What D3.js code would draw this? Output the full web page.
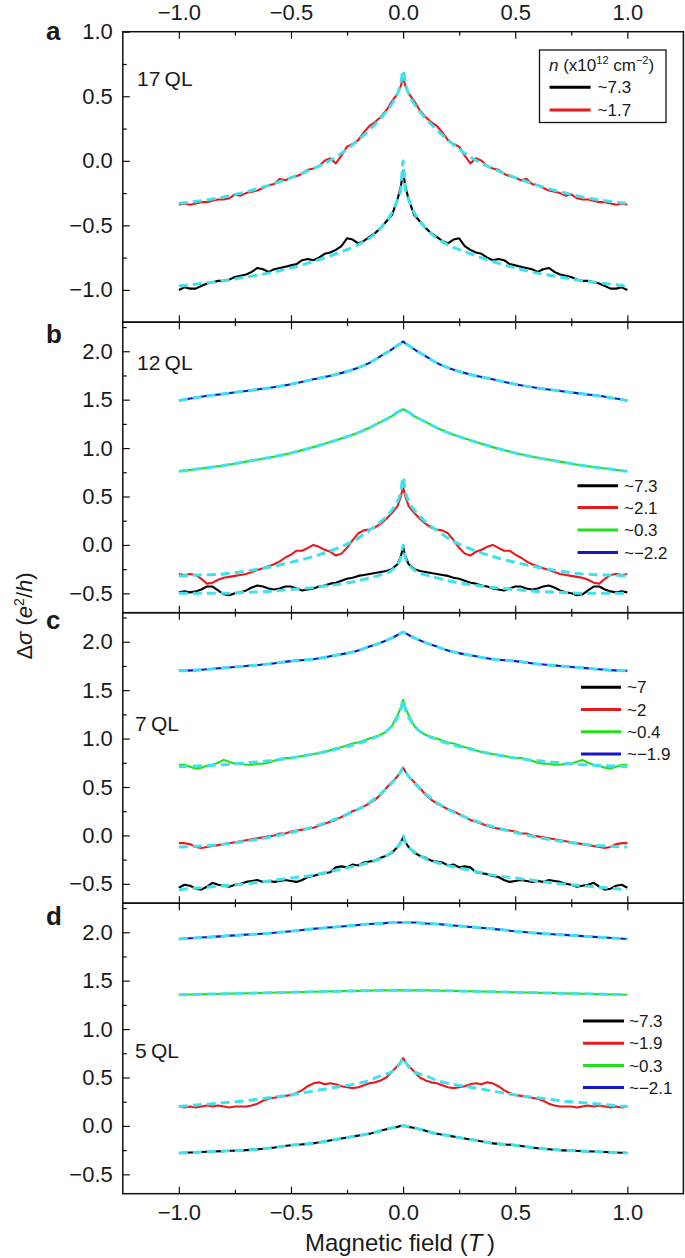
<!DOCTYPE html>
<html><head><meta charset="utf-8">
<script src="https://cdn.jsdelivr.net/npm/d3@7"></script>
<style>
body{margin:0;background:#fff}
svg{display:block}
text{font-family:"Liberation Sans",Arial,Helvetica,sans-serif;fill:#1a1a1a}
</style>
</head><body>
<svg id="chart" width="685" height="1258"></svg>
<script>
// ---------- data (magnetic field B >= 0; measured curves are symmetrized in B) ----------
const FINE_X = [0,0.01,0.025,0.05,0.075,0.1,0.125,0.15,0.175,0.2,0.225,0.25,0.275,0.3,0.325,0.35,0.375,0.4,0.425,0.45,0.475,0.5,0.525,0.55,0.575,0.6,0.625,0.65,0.675,0.7,0.725,0.75,0.775,0.8,0.825,0.85,0.875,0.9,0.925,0.95,0.975,1.0];
const COARSE_X = [0,0.01,0.025,0.05,0.1,0.15,0.2,0.3,0.4,0.5,0.6,0.7,0.8,0.9,1.0];

// panel a: 17 QL
const A_BLACK = [-0.08,-0.2,-0.3,-0.42,-0.47,-0.52,-0.56,-0.59,-0.62,-0.64,-0.61,-0.6,-0.66,-0.69,-0.71,-0.72,-0.75,-0.77,-0.76,-0.77,-0.8,-0.81,-0.82,-0.83,-0.84,-0.86,-0.84,-0.83,-0.86,-0.88,-0.89,-0.9,-0.92,-0.93,-0.93,-0.94,-0.95,-0.97,-0.99,-0.99,-0.98,-1.0];
const A_RED = [0.65,0.58,0.52,0.46,0.39,0.34,0.3,0.27,0.22,0.16,0.13,0.11,0.04,-0.02,0.02,0.0,-0.04,-0.06,-0.07,-0.1,-0.12,-0.13,-0.15,-0.14,-0.18,-0.19,-0.21,-0.23,-0.24,-0.25,-0.27,-0.26,-0.29,-0.3,-0.3,-0.31,-0.32,-0.32,-0.33,-0.34,-0.33,-0.34];
const A_BLACK_FIT = [0.0,-0.22,-0.3,-0.4,-0.52,-0.6,-0.65,-0.72,-0.78,-0.83,-0.87,-0.9,-0.93,-0.95,-0.97];
const A_RED_FIT = [0.70,0.6,0.52,0.44,0.33,0.24,0.16,0.03,-0.06,-0.13,-0.19,-0.24,-0.28,-0.31,-0.33];

// panel b: 12 QL
const B_BLACK = [-0.02,-0.12,-0.2,-0.25,-0.27,-0.28,-0.29,-0.3,-0.31,-0.32,-0.34,-0.35,-0.37,-0.39,-0.4,-0.42,-0.43,-0.45,-0.46,-0.47,-0.45,-0.43,-0.43,-0.45,-0.46,-0.45,-0.43,-0.42,-0.44,-0.47,-0.49,-0.5,-0.52,-0.51,-0.47,-0.43,-0.43,-0.46,-0.48,-0.49,-0.48,-0.49];
const B_RED = [0.6,0.5,0.4,0.33,0.27,0.22,0.18,0.16,0.15,0.12,0.05,-0.03,-0.09,-0.11,-0.07,-0.05,-0.02,0.0,-0.03,-0.06,-0.06,-0.1,-0.13,-0.17,-0.2,-0.22,-0.24,-0.26,-0.28,-0.3,-0.31,-0.32,-0.33,-0.34,-0.36,-0.39,-0.4,-0.35,-0.31,-0.3,-0.31,-0.3];
const B_GREEN = [1.4,1.39,1.37,1.33,1.27,1.21,1.16,1.08,1.01,0.95,0.9,0.86,0.82,0.79,0.76];
const B_BLUE = [2.1,2.08,2.06,2.02,1.95,1.88,1.83,1.76,1.71,1.66,1.62,1.59,1.56,1.53,1.49];
const B_BLACK_FIT = [0.0,-0.13,-0.2,-0.26,-0.31,-0.34,-0.37,-0.41,-0.44,-0.46,-0.48,-0.49,-0.5,-0.5,-0.5];
const B_RED_FIT = [0.7,0.55,0.45,0.36,0.24,0.15,0.07,-0.04,-0.12,-0.18,-0.23,-0.27,-0.3,-0.31,-0.32];

// panel c: 7 QL
const C_BLACK = [-0.02,-0.07,-0.12,-0.18,-0.21,-0.23,-0.26,-0.27,-0.28,-0.31,-0.3,-0.33,-0.32,-0.33,-0.38,-0.39,-0.4,-0.42,-0.43,-0.46,-0.48,-0.47,-0.46,-0.47,-0.48,-0.47,-0.48,-0.46,-0.47,-0.48,-0.5,-0.51,-0.53,-0.52,-0.51,-0.49,-0.53,-0.56,-0.55,-0.52,-0.51,-0.54];
const C_RED = [0.7,0.66,0.61,0.55,0.49,0.42,0.37,0.33,0.3,0.27,0.25,0.22,0.19,0.16,0.14,0.12,0.1,0.08,0.07,0.06,0.05,0.04,0.02,0.02,0.0,-0.01,-0.02,-0.03,-0.04,-0.05,-0.06,-0.07,-0.08,-0.09,-0.1,-0.11,-0.12,-0.13,-0.12,-0.09,-0.08,-0.08];
const C_GREEN = [1.4,1.32,1.24,1.13,1.07,1.04,1.02,1.0,0.98,0.96,0.95,0.93,0.91,0.9,0.88,0.86,0.85,0.84,0.83,0.82,0.81,0.8,0.8,0.79,0.77,0.75,0.74,0.74,0.73,0.73,0.74,0.74,0.76,0.78,0.75,0.73,0.72,0.7,0.69,0.71,0.73,0.73];
const C_BLUE = [2.1,2.09,2.07,2.04,1.99,1.95,1.91,1.86,1.82,1.8,1.77,1.75,1.73,1.71,1.7];
const C_BLACK_FIT = [0.0,-0.07,-0.12,-0.17,-0.24,-0.28,-0.31,-0.36,-0.41,-0.44,-0.47,-0.5,-0.52,-0.54,-0.56];
const C_RED_FIT = [0.7,0.66,0.61,0.54,0.43,0.34,0.27,0.17,0.09,0.03,-0.02,-0.06,-0.09,-0.11,-0.12];
const C_GREEN_FIT = [1.4,1.3,1.22,1.13,1.04,0.99,0.95,0.89,0.84,0.8,0.77,0.75,0.73,0.72,0.71];

// panel d: 5 QL
const D_RED = [0.7,0.66,0.62,0.56,0.5,0.47,0.45,0.44,0.42,0.4,0.39,0.4,0.41,0.43,0.44,0.43,0.45,0.44,0.41,0.37,0.34,0.32,0.31,0.3,0.29,0.28,0.26,0.23,0.21,0.2,0.2,0.2,0.19,0.2,0.21,0.2,0.21,0.2,0.19,0.2,0.19,0.2];
const D_BLACK = [0.0,0.0,-0.01,-0.02,-0.05,-0.08,-0.1,-0.14,-0.18,-0.2,-0.23,-0.25,-0.26,-0.27,-0.28];
const D_GREEN = [1.4,1.4,1.4,1.4,1.4,1.397,1.395,1.39,1.385,1.38,1.375,1.37,1.365,1.36,1.355];
const D_BLUE = [2.1,2.1,2.1,2.1,2.09,2.085,2.075,2.055,2.035,2.01,1.99,1.975,1.96,1.945,1.93];
const D_RED_FIT = [0.7,0.66,0.61,0.56,0.52,0.47,0.44,0.4,0.36,0.32,0.29,0.26,0.24,0.22,0.2];

// ticks and labels
const X_DOMAIN = [-1.25, 1.25];
const X_MAJOR = [-1.0,-0.5,0.0,0.5,1.0];
const X_MINOR = [-0.75,-0.25,0.25,0.75];
const Y_DOMAINS = [[-1.25,1.0],[-0.7,2.3],[-0.7,2.3],[-0.7,2.3]];
const Y_MAJOR = [[-1.0,-0.5,0.0,0.5,1.0],[-0.5,0.0,0.5,1.0,1.5,2.0],[-0.5,0.0,0.5,1.0,1.5,2.0],[-0.5,0.0,0.5,1.0,1.5,2.0]];
const Y_MINOR = [[-0.75,-0.25,0.25,0.75],[-0.25,0.25,0.75,1.25,1.75,2.25],[-0.25,0.25,0.75,1.25,1.75,2.25],[-0.25,0.25,0.75,1.25,1.75,2.25]];
const PANEL_LETTERS = ['a','b','c','d'];
const THICKNESS = ['17\u2009QL','12\u2009QL','7\u2009QL','5\u2009QL'];
const LEGEND_LABELS = [['~7.3','~1.7'],['~7.3','~2.1','~0.3','~\u22122.2'],['~7','~2','~0.4','~\u22121.9'],['~7.3','~1.9','~0.3','~\u22122.1']];
const SERIES_COLORS = ['#000000','#e8191c','#22e01c','#1414c8'];
const FIT_COLOR = '#3fe2ec';

const PANEL_DATA = [
  {curves:[{x:FINE_X,y:A_BLACK},{x:FINE_X,y:A_RED}], fits:[{x:COARSE_X,y:A_BLACK_FIT},{x:COARSE_X,y:A_RED_FIT}]},
  {curves:[{x:FINE_X,y:B_BLACK},{x:FINE_X,y:B_RED},{x:COARSE_X,y:B_GREEN},{x:COARSE_X,y:B_BLUE}],
   fits:[{x:COARSE_X,y:B_BLACK_FIT},{x:COARSE_X,y:B_RED_FIT},{x:COARSE_X,y:B_GREEN},{x:COARSE_X,y:B_BLUE}]},
  {curves:[{x:FINE_X,y:C_BLACK},{x:FINE_X,y:C_RED},{x:FINE_X,y:C_GREEN},{x:COARSE_X,y:C_BLUE}],
   fits:[{x:COARSE_X,y:C_BLACK_FIT},{x:COARSE_X,y:C_RED_FIT},{x:COARSE_X,y:C_GREEN_FIT},{x:COARSE_X,y:C_BLUE}]},
  {curves:[{x:COARSE_X,y:D_BLACK},{x:FINE_X,y:D_RED},{x:COARSE_X,y:D_GREEN},{x:COARSE_X,y:D_BLUE}],
   fits:[{x:COARSE_X,y:D_BLACK},{x:COARSE_X,y:D_RED_FIT},{x:COARSE_X,y:D_GREEN},{x:COARSE_X,y:D_BLUE}]}
];

// ---------- layout ----------
const X0 = 122.8, X1 = 683.4, TOP = 31.7, PH = 290.5;
const TICK_FS = 22, MAJ = 7, MIN = 4;
const LETTER_BASE = [40, 343, 629, 925];
const QL_POS = [[137,86],[137,370],[135,731],[135,1058]];
const LEG = [
  {x1:549.6,x2:590.6,tx:597.6,ys:[87.3,110]},
  {x1:577.5,x2:618,tx:624,ys:[485.7,507.5,530,552.5]},
  {x1:581,x2:621,tx:627,ys:[687.3,709.5,731.7,754]},
  {x1:583,x2:624,tx:629,ys:[1021,1043.3,1065.5,1087.5]}
];

const svg = d3.select('#chart');
const x = d3.scaleLinear().domain(X_DOMAIN).range([X0, X1]);
const fmt = d3.format('.1f');

function mirror(hx, hy){
  const n = Math.min(hx.length, hy.length), pts = [];
  for (let i = n-1; i >= 1; i--) pts.push([-hx[i], hy[i]]);
  for (let i = 0; i < n; i++) pts.push([hx[i], hy[i]]);
  return pts;
}
function styleAxis(g){
  g.select('.domain').remove();
  g.selectAll('line').attr('stroke','#111').attr('stroke-width',1.2);
  g.selectAll('text').attr('font-size',TICK_FS).attr('font-family','"Liberation Sans",Arial,sans-serif').attr('fill','#1a1a1a');
  g.attr('font-size',null).attr('font-family',null);
}

PANEL_DATA.forEach((pd, i) => {
  const top = TOP + i*PH, bot = top + PH;
  const y = d3.scaleLinear().domain(Y_DOMAINS[i]).range([bot, top]);
  const g = svg.append('g');

  const line = d3.line().x(d => x(d[0])).y(d => y(d[1]));
  const smooth = d3.line().x(d => x(d[0])).y(d => y(d[1])).curve(d3.curveMonotoneX);
  pd.curves.forEach((c, k) => {
    const fine = c.x === FINE_X;
    g.append('path').attr('d', (fine ? line : smooth)(mirror(c.x, c.y)))
      .attr('fill','none').attr('stroke',SERIES_COLORS[k]).attr('stroke-width',2.1)
      .attr('stroke-linejoin','round');
  });
  pd.fits.forEach(f => {
    g.append('path').attr('d', smooth(mirror(f.x, f.y)))
      .attr('fill','none').attr('stroke',FIT_COLOR).attr('stroke-width',3)
      .attr('stroke-dasharray','9,5');
  });

  const gl = g.append('g').attr('transform',`translate(${X0},0)`)
    .call(d3.axisLeft(y).tickValues(Y_MAJOR[i]).tickSize(-MAJ).tickPadding(10).tickFormat(fmt));
  styleAxis(gl);
  const glm = g.append('g').attr('transform',`translate(${X0},0)`)
    .call(d3.axisLeft(y).tickValues(Y_MINOR[i]).tickSize(-MIN).tickFormat(''));
  styleAxis(glm);

  const gt = g.append('g').attr('transform',`translate(0,${top})`)
    .call(d3.axisTop(x).tickValues(X_MAJOR).tickSize(-MAJ).tickPadding(12).tickFormat(i === 0 ? fmt : ''));
  styleAxis(gt);
  const gtm = g.append('g').attr('transform',`translate(0,${top})`)
    .call(d3.axisTop(x).tickValues(X_MINOR).tickSize(-MIN).tickFormat(''));
  styleAxis(gtm);
  const gb = g.append('g').attr('transform',`translate(0,${bot})`)
    .call(d3.axisBottom(x).tickValues(X_MAJOR).tickSize(-MAJ).tickPadding(11).tickFormat(i === 3 ? fmt : ''));
  styleAxis(gb);
  const gbm = g.append('g').attr('transform',`translate(0,${bot})`)
    .call(d3.axisBottom(x).tickValues(X_MINOR).tickSize(-MIN).tickFormat(''));
  styleAxis(gbm);

  g.append('rect').attr('x',X0).attr('y',top).attr('width',X1-X0).attr('height',PH)
    .attr('fill','none').attr('stroke','#111').attr('stroke-width',1.5);

  svg.append('text').attr('x',46).attr('y',LETTER_BASE[i]).attr('font-size',26)
    .attr('font-weight','bold').attr('fill','#000').text(PANEL_LETTERS[i]);
  svg.append('text').attr('x',QL_POS[i][0]).attr('y',QL_POS[i][1]).attr('font-size',21)
    .text(THICKNESS[i]);

  const L = LEG[i];
  LEGEND_LABELS[i].forEach((lab, k) => {
    svg.append('line').attr('x1',L.x1).attr('x2',L.x2).attr('y1',L.ys[k]).attr('y2',L.ys[k])
      .attr('stroke',SERIES_COLORS[k]).attr('stroke-width',3);
    svg.append('text').attr('x',L.tx).attr('y',L.ys[k]+6).attr('font-size',17).text(lab);
  });
});

svg.append('rect').attr('x',539.5).attr('y',50).attr('width',126.5).attr('height',72.5)
  .attr('fill','none').attr('stroke','#111').attr('stroke-width',1.3);
const lt = svg.append('text').attr('x',549).attr('y',71).attr('font-size',17);
lt.append('tspan').attr('font-style','italic').text('n');
lt.append('tspan').text(' (x10');
lt.append('tspan').attr('font-size',11).attr('dy',-7).text('12');
lt.append('tspan').attr('dy',7).text(' cm');
lt.append('tspan').attr('font-size',11).attr('dy',-7).text('\u22122');
lt.append('tspan').attr('dy',7).text(')');

const xt = svg.append('text').attr('x',400).attr('y',1251).attr('text-anchor','middle').attr('font-size',24);
xt.append('tspan').text('Magnetic field (');
xt.append('tspan').attr('font-style','italic').text('T');
xt.append('tspan').text('\u2009)');

const yt = svg.append('text').attr('transform','translate(32,616) rotate(-90)')
  .attr('text-anchor','middle').attr('font-size',22);
yt.append('tspan').text('\u0394');
yt.append('tspan').attr('font-style','italic').text('\u03c3');
yt.append('tspan').text(' (');
yt.append('tspan').attr('font-style','italic').text('e');
yt.append('tspan').attr('font-size',14).attr('dy',-8).text('2');
yt.append('tspan').attr('dy',8).text('/');
yt.append('tspan').attr('font-style','italic').text('h');
yt.append('tspan').text(')');
</script>
</body></html>
